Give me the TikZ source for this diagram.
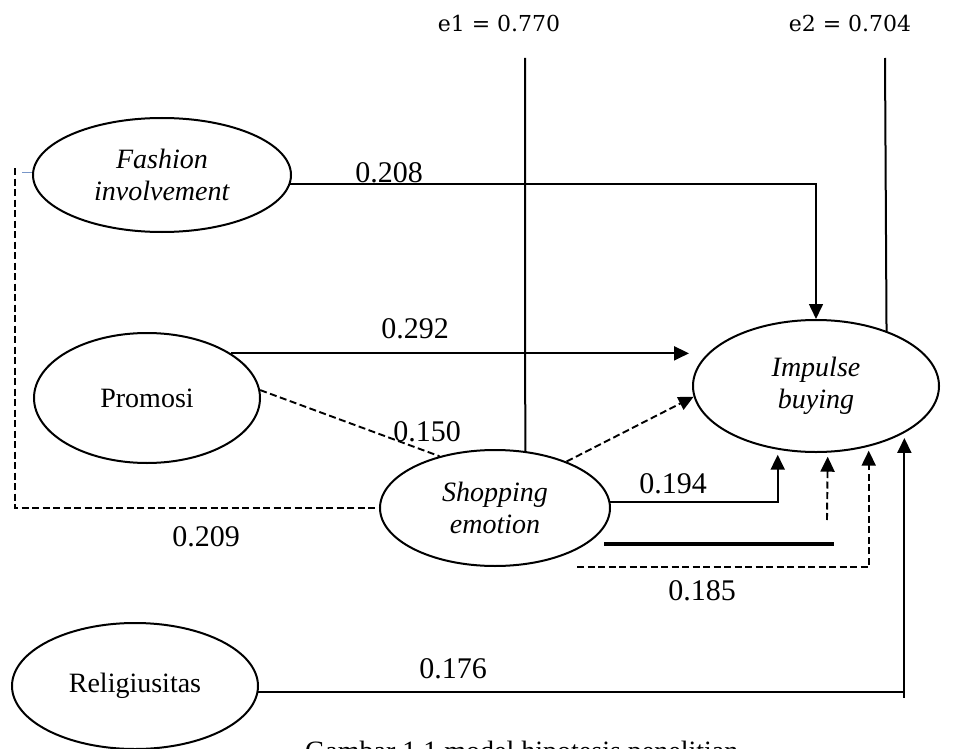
\documentclass[tikz,border=0pt]{standalone}
\usepackage{fontspec}
\setmainfont{Liberation Serif}
\newfontfamily\efont{DejaVu Serif}
\usetikzlibrary{shapes.geometric,arrows.meta,calc}
\definecolor{stubblue}{RGB}{120,150,200}
\begin{document}
\begin{tikzpicture}[x=1pt,y=-1pt,
  latent/.style={draw,ellipse,line width=2pt,inner sep=0pt,align=center,font=\fontsize{28}{32}\selectfont},
  conn/.style={line width=2pt},
  dsh/.style={line width=1.9pt,dash pattern=on 7pt off 3.5pt},
  arr/.style={-{Triangle[length=15pt,width=14pt]}},
  coef/.style={inner sep=0pt,font=\fontsize{30}{32}\selectfont},
  err/.style={inner sep=0pt,font=\efont\fontsize{22}{24}\selectfont}]
\useasboundingbox (0,0) rectangle (953,749);
\clip (0,0) rectangle (953,749);

% latent variables
\node[latent,minimum width=258pt,minimum height=114pt] (fash) at (162,175) {\textit{Fashion}\\\textit{involvement}};
\node[latent,minimum width=226pt,minimum height=130pt] (prom) at (147,398) {Promosi};
\node[latent,minimum width=230pt,minimum height=116pt] (shop) at (495,508) {\textit{Shopping}\\\textit{emotion}};
\node[latent,minimum width=246pt,minimum height=132pt] (imp) at (816,386) {\textit{Impulse}\\\textit{buying}};
\node[latent,minimum width=246pt,minimum height=126pt] (rel) at (135,686) {Religiusitas};

% error terms
\node[err] (e1) at (499,23) {e1 = 0.770};
\node[err] (e2) at (850,23) {e2 = 0.704};
\coordinate (e1top) at (525,58);
\coordinate (e2top) at (885,58);
\draw[conn] (e1top) -- (shop.62);
\draw[conn] (e2top) -- (imp.38);

% direct paths
\draw[conn,line width=1.6pt,arr] (fash.-4) -| (imp.north);
\draw[conn,arr,shorten >=3pt] (prom.28) -- (prom.28 -| imp.west);
\draw[conn,arr,shorten >=5pt] (shop.3) -| (imp.-121);
\draw[conn,arr,shorten >=5pt] (rel.-3) -| (imp.-28.2);
\draw[conn] (rel.-3 -| imp.-28.2) -- ++(0,6);

% indirect (dashed) paths
\draw[dsh] (prom.4) -- (shop.137);
\draw[dsh,arr] (shop.33) -- (imp.185);
\coordinate (lt) at (15,168);
\draw[dsh] (lt) |- (shop.west);
\coordinate (bs) at (22,172);
\draw[line width=1pt,stubblue] (bs) -- (bs -| fash.west);
\coordinate (ds1) at (827,520);
\draw[dsh,arr,shorten >=4pt] (ds1) -- (imp.-80.5);
\coordinate (c185) at (577,567);
\draw[dsh,arr,shorten >=4pt] (c185) -| (imp.-49.7);

% thick bar
\coordinate (tk1) at (604,544);
\coordinate (tk2) at (834,544);
\draw[line width=4.2pt] (tk1) -- (tk2);

% coefficients
\node[coef] (l208) at (389,173) {0.208};
\node[coef] (l292) at (415,329) {0.292};
\node[coef] (l150) at (427,432) {0.150};
\node[coef] (l194) at (673,484) {0.194};
\node[coef] (l185) at (702,591) {0.185};
\node[coef] (l209) at (206,537) {0.209};
\node[coef] (l176) at (453,669) {0.176};

% caption (cut off by the page edge, as in the reference)
\node[anchor=base west,inner sep=0pt,font=\fontsize{28}{32}\selectfont] (cap) at (305,760) {Gambar 1.1 model hipotesis penelitian};
\end{tikzpicture}
\end{document}
